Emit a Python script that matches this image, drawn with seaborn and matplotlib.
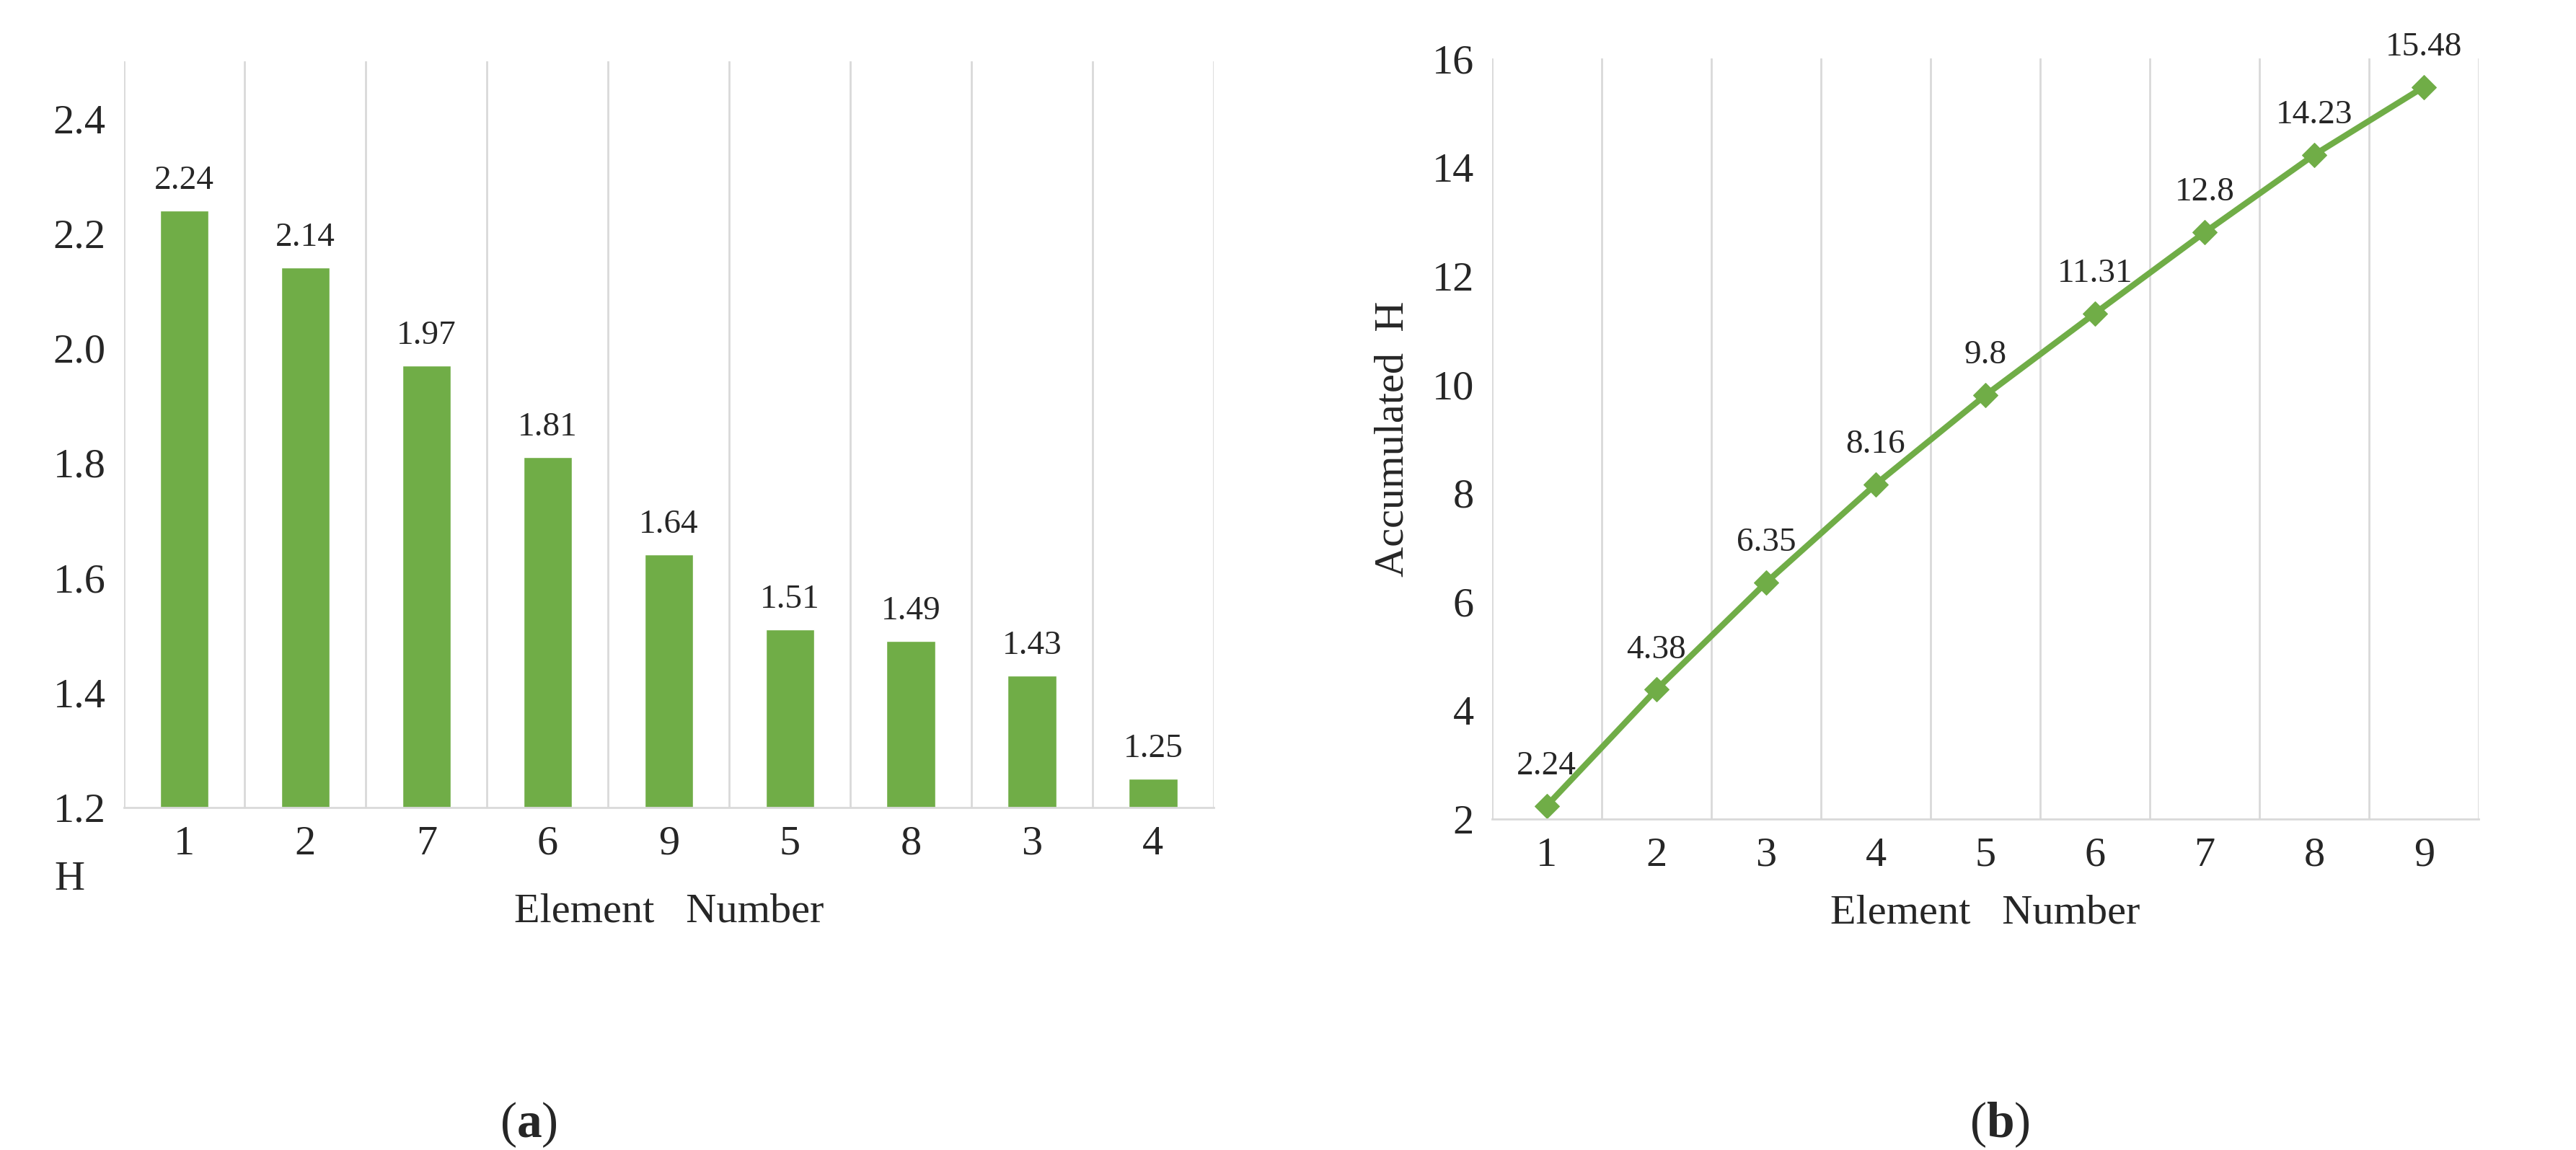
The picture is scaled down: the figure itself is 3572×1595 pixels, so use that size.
import numpy as np
import pandas as pd
import seaborn as sns
import matplotlib.pyplot as plt

# data
bar_elements = ['1', '2', '7', '6', '9', '5', '8', '3', '4']
bar_h = [2.24, 2.14, 1.97, 1.81, 1.64, 1.51, 1.49, 1.43, 1.25]
line_elements = [1, 2, 3, 4, 5, 6, 7, 8, 9]
line_acc_h = [2.24, 4.38, 6.35, 8.16, 9.8, 11.31, 12.8, 14.23, 15.48]
line_labels = ['2.24', '4.38', '6.35', '8.16', '9.8', '11.31', '12.8', '14.23', '15.48']

green = '#70AD47'
grid_color = '#D9D9D9'

sns.set_style('white')
plt.rcParams['font.family'] = ['Liberation Serif', 'DejaVu Serif']
plt.rcParams['mathtext.fontset'] = 'custom'
plt.rcParams['mathtext.bf'] = 'Liberation Serif:bold'
plt.rcParams['mathtext.rm'] = 'Liberation Serif'

fig = plt.figure(figsize=(35.73, 15.95), dpi=100)
ax1 = fig.add_axes([0.048, 0.298, 0.423, 0.649])
ax2 = fig.add_axes([0.579, 0.288, 0.383, 0.661])

# panel (a): bar chart
df_bar = pd.DataFrame({'element': bar_elements, 'H': bar_h})
sns.barplot(data=df_bar, x='element', y='H', order=bar_elements, color=green,
            saturation=1, width=0.4, ax=ax1)
ax1.set_ylim(1.2, 2.5)
ax1.set_yticks([1.2, 1.4, 1.6, 1.8, 2.0, 2.2, 2.4])
ax1.set_yticklabels(['1.2', '1.4', '1.6', '1.8', '2.0', '2.2', '2.4'])
ax1.set_xlim(-0.5, 8.5)
for x in np.arange(-0.5, 9, 1.0):
    ax1.axvline(x, color=grid_color, lw=2, zorder=0)
for i, v in enumerate(bar_h):
    ax1.text(i, v + 0.025, f'{v:.2f}', ha='center', va='bottom', fontsize=34)
ax1.set_xlabel('Element   Number', fontsize=42, labelpad=30)
ax1.set_ylabel('')
fig.text(0.027, 0.235, 'H', fontsize=42, ha='center', va='center')

# panel (b): accumulated line
df_line = pd.DataFrame({'element': line_elements, 'acc': line_acc_h})
sns.lineplot(data=df_line, x='element', y='acc', color=green, lw=6,
             marker='D', markersize=17, markeredgecolor=green, ax=ax2)
ax2.set_ylim(2, 16)
ax2.set_yticks(range(2, 17, 2))
ax2.set_xlim(0.5, 9.5)
ax2.set_xticks(line_elements)
for x in np.arange(0.5, 10, 1.0):
    ax2.axvline(x, color=grid_color, lw=2, zorder=0)
for x, y, s in zip(line_elements, line_acc_h, line_labels):
    ax2.text(x, y + 0.45, s, ha='center', va='bottom', fontsize=34)
ax2.set_xlabel('Element   Number', fontsize=42, labelpad=20)
ax2.set_ylabel('Accumulated  H', fontsize=42, labelpad=20)

for ax in (ax1, ax2):
    for side in ['top', 'left', 'right']:
        ax.spines[side].set_visible(False)
    ax.spines['bottom'].set_color(grid_color)
    ax.spines['bottom'].set_linewidth(2)
    ax.tick_params(axis='both', labelsize=42, length=0, pad=18)

fig.text(0.205, 0.022, r'($\mathbf{a}$)', fontsize=50, ha='center', va='center')
fig.text(0.776, 0.022, r'($\mathbf{b}$)', fontsize=50, ha='center', va='center')

fig.savefig('out.png', dpi=100)
